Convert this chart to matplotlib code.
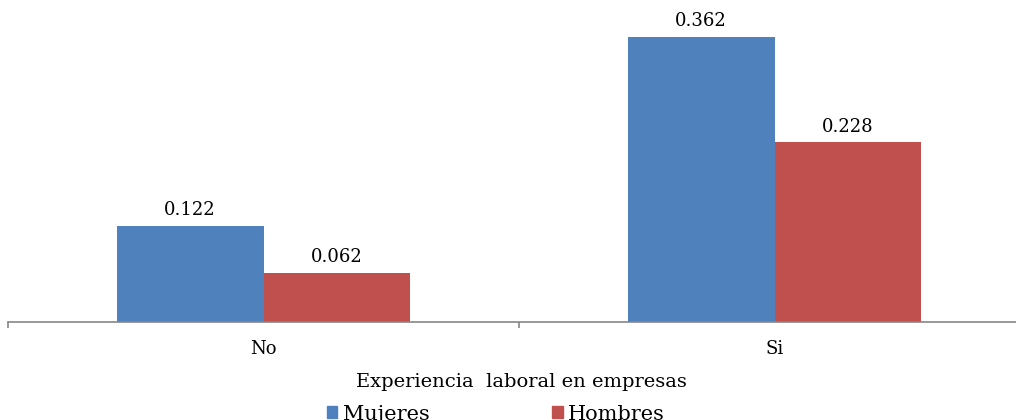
import matplotlib

matplotlib.use("Agg")

import matplotlib.pyplot as plt
from matplotlib.patches import Patch
import numpy as np

categories = ["No", "Si"]
series_names = ["Mujeres", "Hombres"]
mujeres = [0.122, 0.362]
hombres = [0.062, 0.228]
value_labels_m = ["0.122", "0.362"]
value_labels_h = ["0.062", "0.228"]

BLUE = "#4F81BD"
RED = "#C0504D"
GRAY = "#868686"
W, H = 1016, 420

plt.rcParams["font.family"] = ["DejaVu Serif"]

fig = plt.figure(figsize=(W / 100, H / 100), dpi=100)
# axes spans x 8..1030 px (right part is cut off), baseline at y=322
ax = fig.add_axes([8 / W, (H - 322) / H, (1030 - 8) / W, 315 / H])

x = np.arange(len(categories))
bw = 0.287
b1 = ax.bar(x - bw / 2, mujeres, bw, color=BLUE, label=series_names[0])
b2 = ax.bar(x + bw / 2, hombres, bw, color=RED, label=series_names[1])
ax.bar_label(b1, labels=value_labels_m, padding=5, fontsize=13)
ax.bar_label(b2, labels=value_labels_h, padding=5, fontsize=13)

ax.set_xlim(-0.5, 1.5)
ax.set_ylim(0, 0.4)
ax.set_yticks([])
for s in ["top", "right", "left"]:
    ax.spines[s].set_visible(False)
ax.spines["bottom"].set_color(GRAY)
ax.spines["bottom"].set_linewidth(1.2)

ax.set_xticks(x)
ax.set_xticklabels(categories, fontsize=13)
ax.tick_params(axis="x", which="major", length=0, pad=13)
ax.set_xticks([-0.5, 0.5, 1.5], minor=True)
ax.tick_params(axis="x", which="minor", length=4.5, width=1.2, color=GRAY)

fig.text(521 / W, 1 - 382 / H, "Experiencia  laboral en empresas",
         ha="center", va="center", fontsize=14)

handles = [Patch(color=BLUE), Patch(color=RED)]
fig.legend(handles, series_names, loc="center left",
           bbox_to_anchor=(327 / W, 1 - 414 / H), ncol=2, frameon=False,
           fontsize=15, handlelength=0.5, handleheight=0.5,
           handletextpad=0.25, columnspacing=5.9, borderpad=0,
           borderaxespad=0)

fig.savefig("out.png", dpi=100)
plt.close(fig)
